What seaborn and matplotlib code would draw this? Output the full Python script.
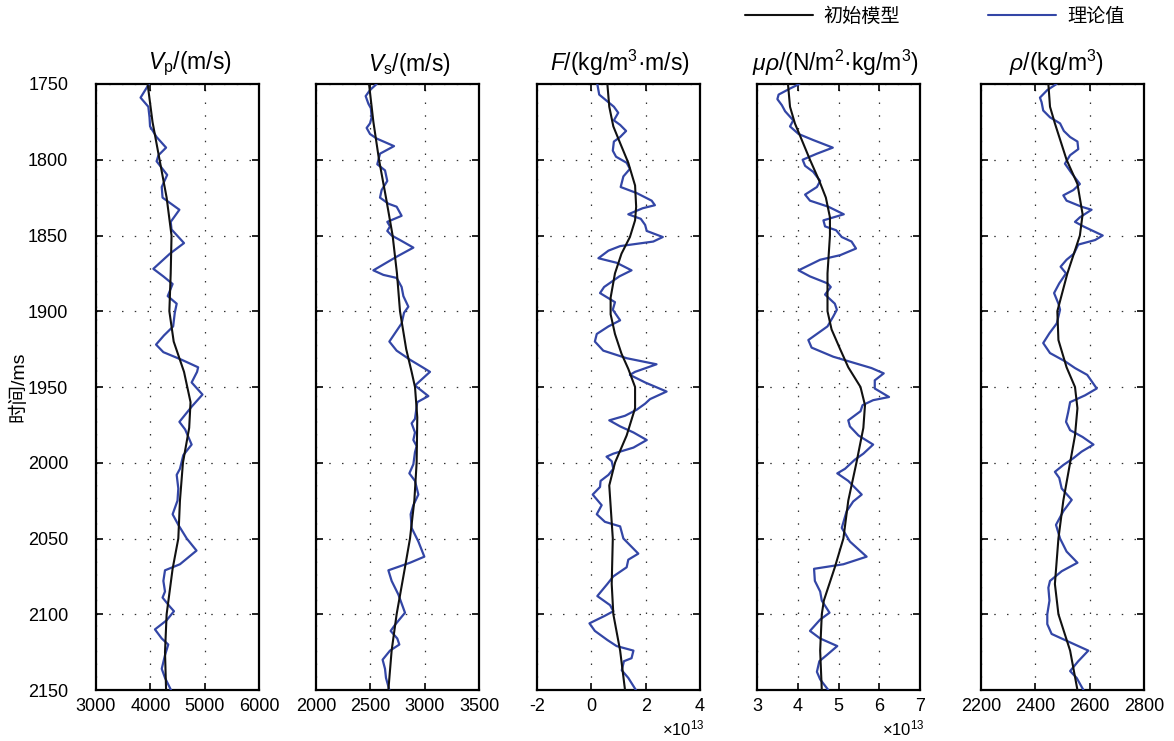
import numpy as np
import pandas as pd
import matplotlib
matplotlib.use("Agg")
import matplotlib.pyplot as plt
import seaborn as sns
from matplotlib.lines import Line2D

# ---------------- data ----------------
LEGEND_LABELS = ["初始模型", "理论值"]
Y_LABEL = "时间/ms"
Y_TICKS = [1750, 1800, 1850, 1900, 1950, 2000, 2050, 2100, 2150]

# Vp (m/s)
VP_MODEL_T = [1750, 1775, 1800, 1825, 1850, 1875, 1900, 1920, 1940, 1960, 1977, 2000, 2025, 2050, 2070, 2100, 2125, 2150]
VP_MODEL = [3950, 4040, 4170, 4300, 4390, 4375, 4350, 4430, 4620, 4740, 4715, 4600, 4545, 4515, 4410, 4300, 4270, 4290]
VP_TRUE_T = [1750, 1759, 1765, 1772, 1778, 1785, 1792, 1797, 1801, 1810, 1818, 1825, 1833, 1841, 1846, 1855, 1862,
             1872, 1877, 1882, 1890, 1895, 1901, 1910, 1916, 1922, 1927, 1932, 1937, 1940, 1947, 1955, 1963, 1973,
             1978, 1988, 1995, 2004, 2008, 2017, 2025, 2034, 2041, 2050, 2058, 2067, 2071, 2078, 2085, 2089, 2095,
             2098, 2104, 2110, 2116, 2120, 2127, 2136, 2142, 2150]
VP_TRUE = [3975, 3820, 3963, 3985, 3995, 4115, 4290, 4150, 4115, 4310, 4210, 4225, 4535, 4375, 4390, 4620, 4360,
           4055, 4240, 4410, 4320, 4485, 4450, 4420, 4250, 4105, 4240, 4575, 4880, 4860, 4760, 4960, 4760, 4535,
           4640, 4760, 4607, 4545, 4485, 4515, 4500, 4410, 4515, 4670, 4850, 4545, 4270, 4240, 4270, 4225, 4360,
           4435, 4300, 4085, 4210, 4330, 4270, 4210, 4270, 4380]

# Vs (m/s)
VS_MODEL_T = [1750, 1775, 1800, 1825, 1850, 1875, 1900, 1925, 1940, 1950, 1970, 2000, 2025, 2050, 2069, 2100, 2124, 2150]
VS_MODEL = [2488, 2528, 2580, 2644, 2705, 2745, 2773, 2830, 2880, 2911, 2932, 2926, 2905, 2865, 2819, 2742, 2696, 2666]
VS_TRUE_T = [1750, 1754, 1758, 1763, 1766, 1772, 1776, 1779, 1783, 1786, 1791, 1796, 1803, 1807, 1814, 1820, 1825,
             1829, 1831, 1837, 1841, 1844, 1847, 1850, 1853, 1858, 1864, 1873, 1876, 1878, 1884, 1890, 1897, 1901,
             1908, 1920, 1926, 1932, 1937, 1940, 1949, 1956, 1960, 1971, 1974, 1980, 1985, 1989, 1993, 2001, 2007,
             2012, 2021, 2028, 2034, 2043, 2052, 2062, 2066, 2071, 2078, 2087, 2099, 2107, 2111, 2116, 2120, 2124,
             2130, 2136, 2142, 2150]
VS_TRUE = [2558, 2497, 2457, 2482, 2505, 2512, 2497, 2466, 2497, 2558, 2718, 2589, 2564, 2635, 2656, 2604, 2589,
           2666, 2742, 2788, 2656, 2681, 2656, 2696, 2773, 2896, 2742, 2528, 2620, 2742, 2788, 2804, 2850, 2810,
           2788, 2675, 2742, 2865, 2981, 3049, 2911, 3034, 2932, 2911, 2880, 2911, 2896, 2926, 2911, 2896, 2859,
           2911, 2942, 2896, 2871, 2880, 2942, 2997, 2865, 2666, 2696, 2758, 2819, 2727, 2687, 2748, 2767, 2681,
           2613, 2635, 2644, 2675]

# F (x1e13 kg/m3*m/s)
F_MODEL_T = [1750, 1765, 1778, 1789, 1802, 1817, 1831, 1840, 1851, 1862, 1875, 1891, 1902, 1915, 1928, 1938, 1950,
             1964, 1982, 2000, 2015, 2050, 2080, 2100, 2124, 2150]
F_MODEL = [0.59, 0.66, 0.81, 1.06, 1.36, 1.61, 1.65, 1.61, 1.42, 1.11, 0.87, 0.71, 0.71, 0.87, 1.11, 1.36, 1.61,
           1.61, 1.30, 0.87, 0.66, 0.79, 0.75, 0.81, 1.06, 1.24]
F_TRUE_T = [1750, 1757, 1761, 1765, 1769, 1774, 1777, 1781, 1785, 1788, 1794, 1798, 1802, 1806, 1811, 1818, 1822,
            1827, 1830, 1832, 1836, 1839, 1843, 1847, 1851, 1854, 1857, 1860, 1865, 1868, 1873, 1877, 1884, 1888,
            1894, 1899, 1906, 1910, 1915, 1920, 1926, 1931, 1935, 1940, 1942, 1947, 1953, 1958, 1961, 1965, 1969,
            1972, 1976, 1980, 1985, 1990, 1994, 1996, 1999, 2004, 2008, 2012, 2016, 2021, 2028, 2034, 2039, 2042,
            2050, 2060, 2064, 2069, 2075, 2080, 2088, 2094, 2098, 2101, 2106, 2111, 2117, 2121, 2124, 2129, 2131,
            2137, 2142, 2150]
F_TRUE = [0.22, 0.29, 0.56, 0.83, 0.99, 0.83, 1.06, 1.28, 1.06, 0.83, 0.79, 0.91, 1.30, 1.42, 1.18, 1.08, 1.67,
          2.22, 2.34, 1.89, 1.36, 1.82, 1.98, 2.04, 2.63, 2.28, 1.06, 0.63, 0.26, 0.93, 1.48, 1.03, 0.47, 0.32,
          0.87, 0.79, 1.06, 0.63, 0.20, 0.13, 0.44, 1.30, 2.40, 1.61, 1.42, 1.98, 2.77, 2.16, 1.98, 1.67, 1.24,
          0.66, 1.06, 1.55, 2.04, 1.55, 0.81, 0.56, 0.75, 0.81, 0.63, 0.34, 0.32, 0.05, 0.38, 0.20, 0.50, 1.06,
          1.18, 1.73, 1.36, 1.30, 0.81, 0.59, 0.22, 0.69, 0.81, 0.50, -0.07, 0.13, 0.59, 0.93, 1.55, 1.48, 1.20,
          1.12, 1.36, 1.64]

# mu*rho (x1e13)
MR_MODEL_T = [1750, 1765, 1776, 1787, 1800, 1814, 1825, 1838, 1850, 1875, 1900, 1912, 1925, 1937, 1950, 1962, 1977,
              2000, 2025, 2050, 2069, 2091, 2100, 2124, 2150]
MR_MODEL = [3.76, 3.81, 3.93, 4.10, 4.30, 4.53, 4.69, 4.79, 4.79, 4.73, 4.73, 4.83, 5.04, 5.24, 5.54, 5.65, 5.61,
            5.44, 5.24, 5.12, 4.91, 4.64, 4.59, 4.55, 4.59]
MR_TRUE_T = [1750, 1753, 1757, 1760, 1764, 1768, 1774, 1778, 1783, 1787, 1792, 1796, 1800, 1804, 1808, 1814, 1818,
             1823, 1827, 1831, 1836, 1840, 1844, 1846.5, 1851, 1854, 1858.6, 1863, 1866, 1873, 1877, 1881.6, 1884,
             1889, 1895, 1899, 1903.5, 1910, 1919, 1924, 1930, 1937.5, 1941, 1945.6, 1951, 1956.6, 1958.7, 1962,
             1966, 1972, 1976, 1982, 1988, 1994, 1998, 2004, 2007, 2012, 2021, 2025.6, 2032, 2043, 2052, 2062,
             2067, 2070, 2078, 2085, 2091, 2099, 2103.5, 2111, 2116, 2121, 2127, 2131, 2138, 2143, 2150]
MR_TRUE = [4.04, 3.81, 3.53, 3.50, 3.61, 3.69, 3.89, 3.81, 4.02, 4.38, 4.86, 4.47, 4.12, 4.18, 4.38, 4.55, 4.47,
           4.18, 4.30, 4.75, 5.13, 4.63, 4.67, 4.94, 5.08, 5.32, 5.43, 5.04, 4.55, 4.02, 4.30, 4.73, 4.81,
           4.67, 4.91, 4.96, 4.87, 4.73, 4.26, 4.34, 4.87, 5.81, 6.11, 5.89, 5.89, 6.24, 5.85, 5.59,
           5.54, 5.24, 5.28, 5.49, 5.85, 5.61, 5.40, 5.16, 4.97, 5.24, 5.57, 5.36, 5.20, 5.08, 5.28, 5.69,
           5.12, 4.40, 4.42, 4.55, 4.59, 4.78, 4.55, 4.30, 4.55, 4.97, 4.71, 4.53, 4.47, 4.55, 4.75]

# rho (kg/m3)
RHO_MODEL_T = [1750, 1765, 1776, 1800, 1816, 1836, 1850, 1875, 1900, 1919, 1937, 1950, 1964, 1982, 2000, 2025, 2050,
               2080, 2100, 2124, 2150]
RHO_MODEL = [2448, 2454, 2472, 2515, 2555, 2574, 2564, 2518, 2481, 2485, 2515, 2546, 2555, 2546, 2528, 2503, 2485,
             2472, 2485, 2528, 2555]
RHO_TRUE_T = [1750, 1754, 1759, 1762, 1767.5, 1772, 1776, 1781, 1785, 1788, 1793, 1797, 1802.6, 1809, 1816, 1820,
              1823.5, 1827, 1831, 1833, 1838, 1841, 1844, 1850, 1853, 1856, 1862, 1866, 1870.6, 1875, 1881.6, 1888,
              1895, 1899, 1908, 1914.5, 1921, 1927.6, 1933, 1937.5, 1942, 1951, 1955.5, 1960, 1966.5, 1973, 1978.5,
              1983, 1988, 1992.7, 1997, 2001.5, 2006, 2010, 2017, 2024.5, 2032, 2041, 2050, 2058.6, 2066, 2071.6,
              2078, 2082.5, 2091, 2100, 2106.5, 2113, 2117.5, 2124, 2131, 2137.5, 2142, 2150]
RHO_TRUE = [2478, 2444, 2417, 2423, 2429, 2454, 2491, 2505, 2528, 2555, 2558, 2528, 2509, 2534, 2564, 2540,
            2503, 2515, 2570, 2607, 2564, 2546, 2577, 2648, 2620, 2558, 2542, 2515, 2493, 2513, 2488, 2469,
            2485, 2491, 2479, 2452, 2429, 2454, 2509, 2546, 2591, 2626, 2583, 2528, 2521, 2513, 2528,
            2574, 2614, 2570, 2540, 2503, 2472, 2488, 2497, 2534, 2503, 2476, 2491, 2515, 2555, 2497,
            2454, 2448, 2452, 2444, 2444, 2460, 2515, 2595, 2558, 2528, 2552, 2577]

TITLES = [r"$V_\mathrm{p}$/(m/s)", r"$V_\mathrm{s}$/(m/s)", r"$F$/(kg/m$^3$·m/s)",
          r"$\mu\rho$/(N/m$^2$·kg/m$^3$)", r"$\rho$/(kg/m$^3$)"]
X_TICKS = [[3000, 4000, 5000, 6000], [2000, 2500, 3000, 3500], [-2, 0, 2, 4], [3, 4, 5, 6, 7], [2200, 2400, 2600, 2800]]
X_TICKLABELS = [["3000", "4000", "5000", "6000"], ["2000", "2500", "3000", "3500"], ["-2", "0", "2", "4"],
                ["3", "4", "5", "6", "7"], ["2200", "2400", "2600", "2800"]]
EXPONENT_TEXT = [None, None, r"×10$^{13}$", r"×10$^{13}$", None]

# ---------------- style ----------------
sns.set_theme(style="ticks")
plt.rcParams["font.family"] = ["Liberation Sans", "Noto Sans CJK SC", "DejaVu Sans"]
plt.rcParams.update({
    "mathtext.fontset": "custom",
    "mathtext.rm": "Liberation Sans",
    "mathtext.it": "Liberation Sans:italic",
    "mathtext.bf": "Liberation Sans:bold",
    "text.color": "black",
    "axes.labelcolor": "black",
    "xtick.color": "black",
    "ytick.color": "black",
    "axes.edgecolor": "black",
})

BLACK = "#111111"
BLUE = "#3346A6"

W, H = 1174, 741
fig = plt.figure(figsize=(W / 100, H / 100), dpi=100)
lefts = [96, 316, 537, 757, 981]
title_shift_px = [12, 12, 1, -3, -6]
aw, top, bottom = 163, 84, 690

panels = [
    (VP_MODEL_T, VP_MODEL, VP_TRUE_T, VP_TRUE),
    (VS_MODEL_T, VS_MODEL, VS_TRUE_T, VS_TRUE),
    (F_MODEL_T, F_MODEL, F_TRUE_T, F_TRUE),
    (MR_MODEL_T, MR_MODEL, MR_TRUE_T, MR_TRUE),
    (RHO_MODEL_T, RHO_MODEL, RHO_TRUE_T, RHO_TRUE),
]

for i, (mt, mv, tt, tv) in enumerate(panels):
    ax = fig.add_axes([lefts[i] / W, 1 - bottom / H, aw / W, (bottom - top) / H])
    df_true = pd.DataFrame({"t": tt, "v": tv})
    df_model = pd.DataFrame({"t": mt, "v": mv})
    sns.lineplot(data=df_true, x="v", y="t", orient="y", estimator=None, sort=True,
                 color=BLUE, lw=1.6, ax=ax, zorder=3)
    sns.lineplot(data=df_model, x="v", y="t", orient="y", estimator=None, sort=True,
                 color=BLACK, lw=1.5, ax=ax, zorder=4)
    ax.set_xlim(X_TICKS[i][0], X_TICKS[i][-1])
    ax.set_ylim(Y_TICKS[-1], Y_TICKS[0])
    ax.set_xticks(X_TICKS[i])
    ax.set_xticklabels(X_TICKLABELS[i])
    ax.set_yticks(Y_TICKS)
    ax.set_xlabel("")
    ax.set_ylabel("")
    ax.grid(True, linestyle=(0, (1.2, 9)), color="#333333", lw=0.9)
    ax.tick_params(direction="in", length=5, width=1.2, top=True, right=True,
                   labelsize=13)
    ax.tick_params(axis="x", pad=6)
    ax.tick_params(axis="y", pad=20)
    if i > 0:
        ax.tick_params(labelleft=False)
    for s in ax.spines.values():
        s.set_linewidth(1.6)
        s.set_color("black")
    ax.text(0.5 + title_shift_px[i] / aw, 1 + 6 / (bottom - top), TITLES[i], transform=ax.transAxes,
            ha="center", va="bottom", fontsize=16.5)
    if EXPONENT_TEXT[i]:
        ax.text(1.03, -0.047, EXPONENT_TEXT[i], transform=ax.transAxes, ha="right", va="top", fontsize=12)
    if i == 0:
        ax.set_ylabel(Y_LABEL, fontsize=14, labelpad=0)

handles = [Line2D([], [], color=BLACK, lw=1.5), Line2D([], [], color=BLUE, lw=1.5)]
fig.legend(handles, LEGEND_LABELS, loc="upper right", bbox_to_anchor=(1132 / W, 1.0), ncol=2,
           frameon=False, handlelength=3.55, columnspacing=4.6, handletextpad=0.55, fontsize=13.8,
           borderaxespad=0.0)

fig.savefig("out.png", dpi=100)
